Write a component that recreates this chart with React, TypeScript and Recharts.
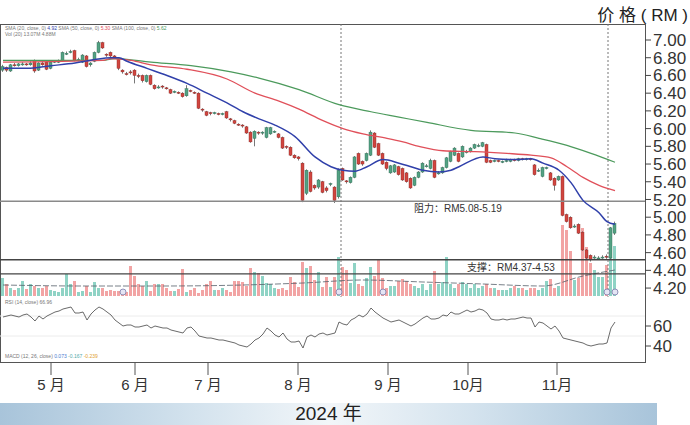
import React from 'react';
import {
  ComposedChart,
  Bar,
  Line,
  XAxis,
  YAxis,
  ReferenceLine,
  ReferenceDot,
  Cell,
} from 'recharts';

// daily candles, index 0 = mid April 2024
const opens = [
  6.66, 6.69, 6.65, 6.72, 6.71, 6.72, 6.73, 6.72, 6.77, 6.66,
  6.74, 6.75, 6.68, 6.75, 6.76, 6.77, 6.85, 6.86, 6.88, 6.77,
  6.75, 6.82, 6.72, 6.76, 6.86, 6.97, 6.84, 6.86, 6.82, 6.78,
  6.66, 6.62, 6.64, 6.66, 6.6, 6.6, 6.53, 6.6, 6.49, 6.47,
  6.48, 6.46, 6.44, 6.42, 6.41, 6.4, 6.37, 6.43, 6.41, 6.4,
  6.22, 6.19, 6.18, 6.17, 6.17, 6.17, 6.19, 6.11, 6.09, 6.05,
  6.04, 6.02, 5.96, 5.89, 5.96, 5.95, 5.9, 5.94, 5.97, 5.94,
  5.9, 5.8, 5.79, 5.7, 5.68, 5.61, 5.27, 5.51, 5.36, 5.34,
  5.4, 5.33, 5.37, 5.34, 5.23, 5.55, 5.41, 5.39, 5.45, 5.72,
  5.63, 5.64, 5.7, 5.95, 5.83, 5.72, 5.62, 5.5, 5.51, 5.57,
  5.55, 5.5, 5.44, 5.36, 5.45, 5.51, 5.58, 5.55, 5.64, 5.5,
  5.5, 5.56, 5.63, 5.7, 5.72, 5.68, 5.74, 5.74, 5.78, 5.81,
  5.8, 5.82, 5.64, 5.63, 5.64, 5.62, 5.64, 5.63, 5.65, 5.64,
  5.66, 5.65, 5.66, 5.59, 5.53, 5.46, 5.56, 5.5, 5.44, 5.42,
  5.46, 5.03, 5.0, 4.9, 4.92, 4.83, 4.63, 4.57, 4.55, 4.54,
  4.55, 4.56, 4.54, 4.82,
];
const closes = [
  6.7, 6.66, 6.72, 6.71, 6.73, 6.73, 6.72, 6.74, 6.65, 6.74,
  6.72, 6.67, 6.75, 6.76, 6.76, 6.86, 6.85, 6.87, 6.77, 6.78,
  6.83, 6.7, 6.74, 6.86, 6.97, 6.91, 6.83, 6.82, 6.81, 6.68,
  6.64, 6.61, 6.63, 6.6, 6.59, 6.54, 6.6, 6.5, 6.45, 6.47,
  6.47, 6.45, 6.4, 6.42, 6.4, 6.36, 6.45, 6.42, 6.4, 6.23,
  6.21, 6.15, 6.17, 6.18, 6.16, 6.17, 6.12, 6.1, 6.06, 6.04,
  6.03, 5.95, 5.85, 5.97, 5.95, 5.96, 6.01, 6.01, 5.97, 5.9,
  5.78, 5.79, 5.7, 5.67, 5.66, 5.19, 5.53, 5.29, 5.33, 5.42,
  5.28, 5.3, 5.38, 5.19, 5.53, 5.42, 5.4, 5.45, 5.68, 5.6,
  5.6, 5.72, 5.96, 5.79, 5.7, 5.6, 5.55, 5.58, 5.59, 5.48,
  5.42, 5.4, 5.33, 5.45, 5.51, 5.61, 5.58, 5.64, 5.45, 5.5,
  5.56, 5.67, 5.74, 5.78, 5.63, 5.8, 5.74, 5.78, 5.82, 5.81,
  5.84, 5.62, 5.62, 5.64, 5.63, 5.63, 5.64, 5.65, 5.64, 5.66,
  5.65, 5.66, 5.65, 5.48, 5.53, 5.56, 5.56, 5.42, 5.36, 5.46,
  5.02, 4.95, 4.88, 4.9, 4.82, 4.63, 4.54, 4.52, 4.55, 4.54,
  4.55, 4.55, 4.88, 4.93,
];
const highs = [
  6.72, 6.7, 6.73, 6.74, 6.74, 6.75, 6.74, 6.76, 6.78, 6.75,
  6.76, 6.76, 6.76, 6.77, 6.78, 6.87, 6.87, 6.89, 6.89, 6.8,
  6.84, 6.83, 6.75, 6.87, 6.99, 6.98, 6.85, 6.87, 6.83, 6.79,
  6.67, 6.64, 6.66, 6.67, 6.62, 6.61, 6.61, 6.61, 6.5, 6.49,
  6.49, 6.47, 6.45, 6.43, 6.42, 6.41, 6.49, 6.44, 6.42, 6.41,
  6.23, 6.2, 6.19, 6.19, 6.18, 6.18, 6.2, 6.12, 6.1, 6.06,
  6.05, 6.03, 5.97, 5.98, 5.97, 5.97, 6.02, 6.02, 5.98, 5.95,
  5.91, 5.81, 5.8, 5.71, 5.69, 5.62, 5.54, 5.53, 5.37, 5.43,
  5.41, 5.35, 5.39, 5.35, 5.55, 5.56, 5.42, 5.46, 5.69, 5.73,
  5.64, 5.73, 5.98, 5.96, 5.84, 5.73, 5.63, 5.59, 5.6, 5.58,
  5.56, 5.51, 5.45, 5.46, 5.52, 5.62, 5.6, 5.66, 5.65, 5.52,
  5.57, 5.68, 5.75, 5.79, 5.73, 5.81, 5.76, 5.79, 5.83, 5.83,
  5.85, 5.83, 5.65, 5.65, 5.65, 5.64, 5.66, 5.66, 5.66, 5.67,
  5.67, 5.67, 5.67, 5.6, 5.55, 5.57, 5.57, 5.51, 5.45, 5.47,
  5.47, 5.04, 5.01, 4.92, 4.93, 4.84, 4.64, 4.58, 4.57, 4.56,
  4.57, 4.58, 4.89, 4.95,
];
const lows = [
  6.64, 6.64, 6.64, 6.7, 6.7, 6.71, 6.71, 6.71, 6.63, 6.65,
  6.71, 6.66, 6.67, 6.74, 6.74, 6.76, 6.83, 6.85, 6.76, 6.76,
  6.74, 6.69, 6.7, 6.75, 6.85, 6.9, 6.81, 6.8, 6.79, 6.66,
  6.62, 6.6, 6.61, 6.51, 6.57, 6.52, 6.52, 6.49, 6.44, 6.45,
  6.45, 6.44, 6.39, 6.4, 6.39, 6.35, 6.36, 6.41, 6.39, 6.22,
  6.19, 6.14, 6.15, 6.16, 6.15, 6.15, 6.11, 6.08, 6.05, 6.03,
  6.01, 5.94, 5.84, 5.8, 5.93, 5.93, 5.89, 5.93, 5.95, 5.89,
  5.77, 5.77, 5.69, 5.66, 5.64, 5.17, 5.25, 5.28, 5.31, 5.32,
  5.27, 5.28, 5.35, 5.16, 5.21, 5.41, 5.38, 5.38, 5.44, 5.59,
  5.58, 5.63, 5.69, 5.78, 5.69, 5.59, 5.53, 5.49, 5.5, 5.47,
  5.41, 5.39, 5.32, 5.35, 5.44, 5.5, 5.56, 5.54, 5.44, 5.48,
  5.49, 5.55, 5.62, 5.69, 5.62, 5.67, 5.72, 5.73, 5.77, 5.79,
  5.79, 5.61, 5.61, 5.62, 5.62, 5.61, 5.62, 5.62, 5.63, 5.63,
  5.64, 5.64, 5.64, 5.47, 5.51, 5.45, 5.54, 5.41, 5.3, 5.41,
  5.01, 4.94, 4.87, 4.88, 4.81, 4.62, 4.52, 4.5, 4.53, 4.52,
  4.53, 4.53, 4.53, 4.8,
];
const volumes = [
  18, 12, 8, 6, 8, 15, 7, 12, 10, 8,
  8, 10, 6, 5, 4, 8, 22, 12, 15, 4,
  5, 10, 4, 14, 8, 8, 5, 6, 5, 5,
  4, 4, 30, 20, 12, 10, 15, 5, 12, 12,
  12, 8, 5, 5, 7, 27, 4, 6, 8, 3,
  6, 12, 15, 6, 6, 8, 6, 4, 15, 15,
  14, 10, 28, 24, 23, 20, 13, 12, 8, 7,
  8, 6, 19, 14, 9, 34, 28, 30, 16, 24,
  9, 19, 9, 19, 39, 29, 26, 13, 33, 12,
  10, 18, 29, 20, 36, 18, 8, 10, 10, 15,
  17, 15, 12, 10, 8, 12, 6, 12, 25, 12,
  14, 39, 12, 8, 12, 14, 12, 8, 12, 8,
  10, 12, 8, 8, 6, 6, 6, 8, 10, 8,
  8, 6, 8, 8, 6, 8, 15, 17, 8, 10,
  71, 66, 45, 16, 18, 68, 49, 33, 26, 19,
  19, 31, 68, 50,
];
const rsi = [
  69, 70, 71, 70, 69, 71, 72, 69, 65, 70,
  67, 70, 72, 74, 75, 77, 78, 79, 73, 73,
  74, 66, 72, 76, 79, 77, 74, 71, 66, 63,
  60, 61, 61, 59, 59, 60, 61, 58, 60, 59,
  58, 58, 56, 55, 54, 53, 58, 59, 55, 50,
  49, 48, 48, 47, 46, 46, 45, 44, 43, 41,
  40, 39, 42, 46, 48, 52, 58, 55, 51, 49,
  53, 47, 44, 44, 45, 38, 49, 51, 49, 52,
  53, 51, 52, 53, 64, 62, 61, 66, 68, 71,
  69, 72, 78, 74, 71, 68, 66, 64, 65, 66,
  64, 62, 60, 62, 65, 68, 70, 67, 67, 68,
  71, 70, 74, 72, 72, 74, 76, 74, 75, 77,
  76, 73, 67, 66, 66, 67, 66, 67, 67, 68,
  69, 68, 68, 59, 64, 63, 60, 57, 60, 55,
  48, 47, 46, 45, 44, 43, 41, 40, 41, 42,
  42, 43, 58, 64,
];

// moving averages: [day index, value]
const sma20 = [
  [0, 6.68], [6, 6.68], [12, 6.71], [18, 6.74], [23, 6.78], [27, 6.8], [29, 6.8],
  [31, 6.76], [36, 6.68], [41, 6.6], [46, 6.51], [51, 6.4], [56, 6.29], [60, 6.19],
  [64, 6.11], [68, 6.04], [73, 5.91], [78, 5.68], [82, 5.57], [85, 5.53], [88, 5.52],
  [91, 5.57], [95, 5.65], [99, 5.61], [102, 5.57], [105, 5.53], [109, 5.51], [112, 5.53],
  [114, 5.57], [120, 5.68], [123, 5.66], [128, 5.65], [132, 5.66], [135, 5.61],
  [139, 5.53], [142, 5.39], [145, 5.19], [149, 5.05], [151, 4.95], [153, 4.92],
];
const sma50 = [
  [0, 6.75], [25, 6.77], [27, 6.79], [32, 6.77], [37, 6.72], [46, 6.67], [56, 6.56],
  [63, 6.4], [69, 6.31], [74, 6.22], [80, 6.09], [85, 6.0], [90, 5.94], [96, 5.89],
  [100, 5.85], [104, 5.8], [110, 5.75], [118, 5.74], [126, 5.72], [132, 5.7],
  [137, 5.67], [141, 5.57], [145, 5.45], [149, 5.36], [153, 5.3],
];
const sma100 = [
  [0, 6.77], [25, 6.77], [28, 6.79], [37, 6.75], [47, 6.71], [57, 6.64], [64, 6.57],
  [74, 6.44], [84, 6.27], [92, 6.19], [99, 6.13], [106, 6.07], [117, 5.98],
  [128, 5.95], [134, 5.89], [141, 5.81], [147, 5.72], [153, 5.62],
];
const volAvg = [
  [0, 11], [20, 10], [40, 10], [60, 11], [75, 13], [90, 16], [105, 14],
  [120, 12], [135, 10], [145, 20], [153, 26],
];

const monthTicks = [12, 33, 51.25, 73.75, 96.25, 116.25, 138.5];
const monthLabels = ['5 月', '6 月', '7 月', '8 月', '9 月', '10月', '11月'];
const priceTicks = [4.2, 4.4, 4.6, 4.8, 5.0, 5.2, 5.4, 5.6, 5.8, 6.0, 6.2, 6.4, 6.6, 6.8, 7.0];
const rsiTicks = [40, 60];
const resistance = 5.18;
const supports = [4.52, 4.36];
const markerDays = [84.5, 151.25];
const eventDays = [30, 84, 95, 151, 153];

const UP = '#53a183';
const UP_EDGE = '#2f6f57';
const DOWN = '#d0453f';
const DOWN_EDGE = '#8c2926';
const FONT = '"Liberation Sans", Arial, "Noto Sans CJK SC", sans-serif';
const X_DOMAIN = [-0.75, 160.5];

const rows: any[] = opens.map((o, i) => ({
  i,
  open: o,
  close: closes[i],
  range: [lows[i], highs[i]],
  vol: volumes[i],
  rsi: rsi[i],
}));
sma20.forEach(([i, v]) => (rows[i].ma20 = v));
sma50.forEach(([i, v]) => (rows[i].ma50 = v));
sma100.forEach(([i, v]) => (rows[i].ma100 = v));
volAvg.forEach(([i, v]) => (rows[i].vma = v));

function Candle(props: any) {
  const { x, y, width, height, payload } = props;
  if (x == null || !payload) return null;
  const top = Math.min(y, y + height);
  const h = Math.abs(height);
  const [lo, hi] = payload.range;
  const k = h / (hi - lo);
  const up = payload.close >= payload.open;
  const bodyTop = top + (hi - Math.max(payload.open, payload.close)) * k;
  const bodyH = Math.max(1, Math.abs(payload.open - payload.close) * k);
  const cx = x + width / 2;
  return (
    <g>
      <line x1={cx} x2={cx} y1={top} y2={top + h} stroke="#555" strokeWidth={0.8} />
      <rect
        x={x}
        y={bodyTop}
        width={width}
        height={bodyH}
        fill={up ? UP : DOWN}
        stroke={up ? UP_EDGE : DOWN_EDGE}
        strokeWidth={0.4}
      />
    </g>
  );
}

const tinyText: React.CSSProperties = {
  position: 'absolute',
  fontSize: 5,
  color: '#777',
  whiteSpace: 'nowrap',
  lineHeight: '6px',
};

export default function App() {
  return (
    <div
      style={{
        position: 'absolute',
        left: 0,
        top: 0,
        width: 690,
        height: 425,
        background: '#fff',
        fontFamily: FONT,
        overflow: 'hidden',
      }}
    >
      <div
        style={{
          position: 'absolute',
          right: 2,
          top: 1,
          fontSize: 17,
          color: '#222',
          whiteSpace: 'nowrap',
        }}
      >
        价 格 ( RM )
      </div>

      {/* frame */}
      <div
        style={{
          position: 'absolute',
          left: 0,
          top: 24,
          width: 646,
          height: 339,
          border: '1.5px solid #555',
          boxSizing: 'border-box',
        }}
      />

      <div style={{ position: 'absolute', left: 0, top: 298 }}>
        <ComposedChart width={690} height={104} data={rows} margin={{ top: 0, right: 0, left: 0, bottom: 0 }}>
          <XAxis
            dataKey="i"
            type="number"
            domain={X_DOMAIN}
            allowDataOverflow
            ticks={monthTicks}
            interval={0}
            tickFormatter={(v: number) => monthLabels[monthTicks.indexOf(v)]}
            tick={{ fontSize: 15, fill: '#333', fontFamily: FONT }}
            tickSize={13}
            tickMargin={4}
            tickLine={{ stroke: '#555' }}
            axisLine={false}
            height={40}
          />
          <YAxis
            orientation="right"
            width={45}
            domain={[24, 88]}
            ticks={rsiTicks}
            interval={0}
            allowDataOverflow
            tick={{ fontSize: 17, fill: '#333', fontFamily: FONT }}
            tickSize={6}
            tickMargin={2}
            tickLine={{ stroke: '#444' }}
            axisLine={false}
          />
          <ReferenceLine y={70} stroke="#ececec" />
          <ReferenceLine y={50} stroke="#ececec" />
          <Line dataKey="rsi" stroke="#444" strokeWidth={0.8} dot={false} isAnimationActive={false} />
        </ComposedChart>
      </div>

      <div style={{ position: 'absolute', left: 0, top: 24 }}>
        <ComposedChart width={690} height={282} data={rows} margin={{ top: 0, right: 0, left: 0, bottom: 0 }}>
          <XAxis xAxisId="p" dataKey="i" type="number" domain={X_DOMAIN} allowDataOverflow hide />
          <XAxis xAxisId="v" dataKey="i" type="number" domain={X_DOMAIN} allowDataOverflow hide />
          <YAxis
            yAxisId="price"
            orientation="right"
            width={45}
            domain={[3.9977, 7.1806]}
            ticks={priceTicks}
            interval={0}
            allowDataOverflow
            tickFormatter={(v: number) => v.toFixed(2)}
            tick={{ fontSize: 17, fill: '#333', fontFamily: FONT }}
            tickSize={6}
            tickMargin={2}
            tickLine={{ stroke: '#444' }}
            axisLine={false}
          />
          <YAxis yAxisId="vol" domain={[-10, 272]} hide allowDataOverflow />

          <Bar xAxisId="v" yAxisId="vol" dataKey="vol" barSize={3} isAnimationActive={false}>
            {rows.map((r) => (
              <Cell key={r.i} fill={r.close >= r.open ? '#8fd3c5' : '#f2a4a4'} />
            ))}
          </Bar>
          <Line
            xAxisId="v"
            yAxisId="vol"
            dataKey="vma"
            stroke="#55606a"
            strokeWidth={0.8}
            strokeDasharray="6 2"
            dot={false}
            connectNulls
            type="monotone"
            isAnimationActive={false}
          />

          <ReferenceLine xAxisId="p" yAxisId="price" y={resistance} stroke="#8a8a8a" strokeWidth={1.5} />
          {supports.map((s) => (
            <ReferenceLine key={s} xAxisId="p" yAxisId="price" y={s} stroke="#444" strokeWidth={1.3} />
          ))}
          {markerDays.map((d) => (
            <ReferenceLine
              key={d}
              xAxisId="p"
              yAxisId="price"
              segment={[{ x: d, y: 7.1806 }, { x: d, y: 4.1 }]}
              stroke="#777"
              strokeDasharray="2 2"
            />
          ))}

          <Line xAxisId="p" yAxisId="price" dataKey="ma100" stroke="#4c9a5c" strokeWidth={1.2} dot={false} connectNulls type="monotone" isAnimationActive={false} />
          <Line xAxisId="p" yAxisId="price" dataKey="ma50" stroke="#e0505a" strokeWidth={1.3} dot={false} connectNulls type="monotone" isAnimationActive={false} />
          <Line xAxisId="p" yAxisId="price" dataKey="ma20" stroke="#3040aa" strokeWidth={1.5} dot={false} connectNulls type="monotone" isAnimationActive={false} />

          <Bar xAxisId="p" yAxisId="price" dataKey="range" barSize={3} shape={Candle} isAnimationActive={false} />

          {eventDays.map((d) => (
            <ReferenceDot key={d} xAxisId="v" yAxisId="vol" x={d} y={4} r={3} fill="#e4e4f4" stroke="#7a7aa8" strokeWidth={0.8} />
          ))}
        </ComposedChart>
      </div>

      <div style={{ ...tinyText, left: 5, top: 25 }}>
        SMA (20, close, 0) <span style={{ color: '#3040aa' }}>4.92</span> SMA (50, close, 0){' '}
        <span style={{ color: '#e0505a' }}>5.30</span> SMA (100, close, 0){' '}
        <span style={{ color: '#4c9a5c' }}>5.62</span>
      </div>
      <div style={{ ...tinyText, left: 5, top: 31 }}>Vol (20) 13.07M 4.88M</div>
      <div style={{ ...tinyText, left: 5, top: 299 }}>RSI (14, close) 66.96</div>
      <div style={{ ...tinyText, left: 5, top: 353 }}>
        MACD (12, 26, close) <span style={{ color: '#4a7ed0' }}>0.073</span>{' '}
        <span style={{ color: '#5aa' }}>-0.167</span> <span style={{ color: '#e0a030' }}>-0.239</span>
      </div>

      <div style={{ position: 'absolute', left: 414, top: 200, fontSize: 10, color: '#333', whiteSpace: 'nowrap' }}>
        阻力：RM5.08-5.19
      </div>
      <div style={{ position: 'absolute', left: 467, top: 259, fontSize: 10, color: '#333', whiteSpace: 'nowrap' }}>
        支撑：RM4.37-4.53
      </div>

      <div
        style={{
          position: 'absolute',
          left: 0,
          top: 403,
          width: 657,
          height: 22,
          background: 'linear-gradient(to right, #a8c4da 0%, #d4e3ee 30%, #f2f6f9 50%, #d4e3ee 72%, #a8c4da 100%)',
          textAlign: 'center',
          fontSize: 19,
          lineHeight: '22px',
          color: '#222',
        }}
      >
        2024 年
      </div>
    </div>
  );
}
